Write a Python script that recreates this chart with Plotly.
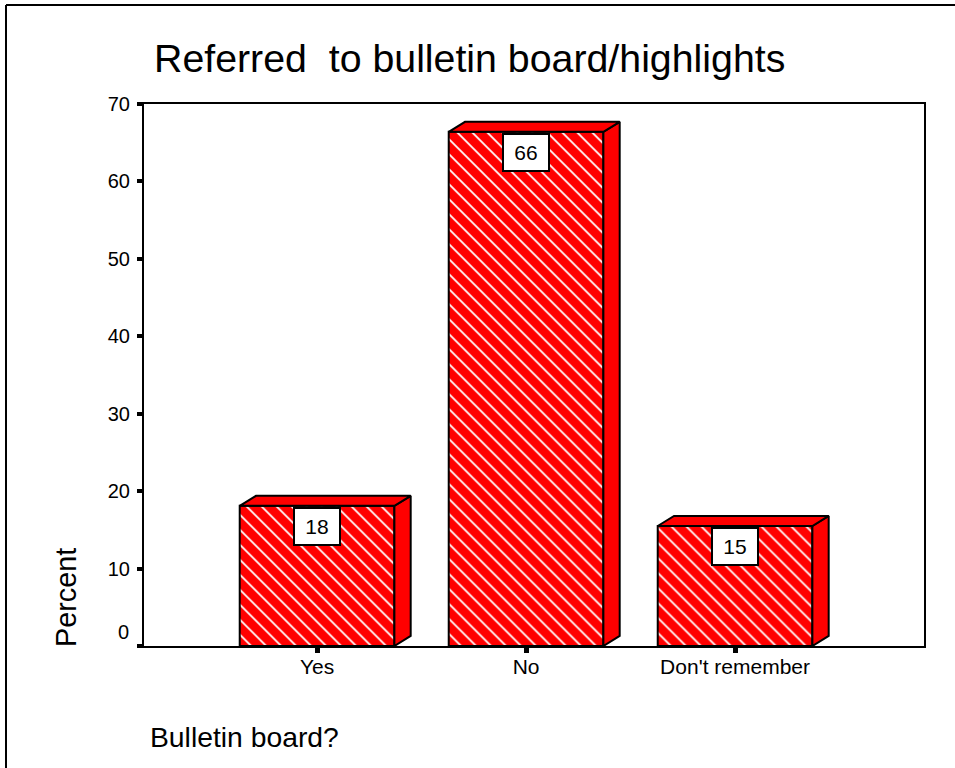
import plotly.graph_objects as go

categories = ["Yes", "No", "Don't remember"]
percents = [18.1, 66.4, 15.5]
labels = ["18", "66", "15"]
y_ticks = [0, 10, 20, 30, 40, 50, 60, 70]
y_tick_text = ["", "10", "20", "30", "40", "50", "60", "70"]

W, H = 955, 768
L, R, T, B = 144, 924, 104, 646
bar_w = 0.74
dx, dy = 0.078, 1.3
xs = list(range(len(categories)))
xr = [-0.828, 2.904]

fig = go.Figure()
fig.add_trace(go.Bar(
    x=xs, y=percents, width=bar_w,
    marker=dict(color="#ff0000", line=dict(color="black", width=2),
                pattern=dict(shape="\\", fgcolor="#ffffff", bgcolor="#ff0000", size=10.6, solidity=0.17,
                             fgopacity=1, fillmode="replace")),
    hoverinfo="skip",
))
for x, v in zip(xs, percents):
    l, r = x - bar_w / 2, x + bar_w / 2
    fig.add_trace(go.Scatter(x=[r, r + dx, r + dx, r, r], y=[0, dy, v + dy, v, 0], mode="lines",
                             fill="toself", fillcolor="#ff0000", line=dict(color="black", width=2), hoverinfo="skip"))
    fig.add_trace(go.Scatter(x=[l, l + dx, r + dx, r, l], y=[v, v + dy, v + dy, v, v], mode="lines",
                             fill="toself", fillcolor="#ff0000", line=dict(color="black", width=2), hoverinfo="skip"))

annotations = []
for x, v, t in zip(xs, percents, labels):
    annotations.append(dict(x=x, y=v, text=t, showarrow=False, xanchor="center", yanchor="top",
                            bgcolor="white", bordercolor="black", borderwidth=2, width=42, height=33,
                            font=dict(size=21, color="black"), yshift=-1))
annotations += [
    dict(xref="paper", yref="y", x=(131 - L) / (R - L), y=0, yshift=14, text="0",
         showarrow=False, xanchor="right", yanchor="middle", font=dict(size=20, color="black")),
    dict(xref="paper", yref="paper", x=(152 - L) / (R - L), y=(B - 58) / (B - T), text="Referred  to bulletin board/highlights",
         showarrow=False, xanchor="left", yanchor="middle", font=dict(size=39.3, color="black")),
    dict(xref="paper", yref="paper", x=(66 - L) / (R - L), y=(B - 598) / (B - T), text="Percent", textangle=-90,
         showarrow=False, xanchor="center", yanchor="middle", font=dict(size=28.8, color="black")),
    dict(xref="paper", yref="paper", x=(148 - L) / (R - L), y=(B - 737) / (B - T), text="Bulletin board?",
         showarrow=False, xanchor="left", yanchor="middle", font=dict(size=28.3, color="black")),
]

fig.update_layout(
    width=W, height=H, margin=dict(l=L, r=W - R, t=T, b=H - B, autoexpand=False),
    paper_bgcolor="white", plot_bgcolor="white", showlegend=False,
    font=dict(family="Liberation Sans, Arial, sans-serif", color="black"),
    annotations=annotations,
    shapes=[
        dict(type="line", xref="paper", yref="paper", x0=(6 - L) / (R - L), x1=(6 - L) / (R - L),
             y0=(B - 5) / (B - T), y1=(B - 768) / (B - T), line=dict(color="black", width=2)),
        dict(type="line", xref="paper", yref="paper", x0=(6 - L) / (R - L), x1=(955 - L) / (R - L),
             y0=(B - 5) / (B - T), y1=(B - 5) / (B - T), line=dict(color="black", width=2)),
    ],
)
fig.update_xaxes(range=xr, tickvals=xs, ticktext=categories, ticks="outside", ticklen=5, tickwidth=5,
                 ticklabelstandoff=-4,
                 tickcolor="black", tickfont=dict(size=21, color="black"), showgrid=False, zeroline=False,
                 showline=True, linecolor="black", linewidth=2, mirror=True)
fig.update_yaxes(range=[0, 70], tickvals=y_ticks, ticktext=y_tick_text, ticks="outside", ticklen=5, tickwidth=4,
                 ticklabelstandoff=3,
                 tickcolor="black", tickfont=dict(size=20, color="black"), showgrid=False, zeroline=False,
                 showline=True, linecolor="black", linewidth=2, mirror=True)
fig.write_html("out.html", config={"displayModeBar": False},
               post_script="document.body.style.margin='0';document.documentElement.style.overflow='hidden';")
